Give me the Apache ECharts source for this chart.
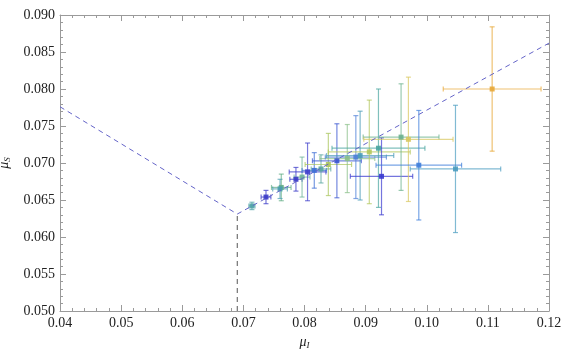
<!DOCTYPE html>
<html>
<head>
<meta charset="utf-8">
<script src="https://cdn.jsdelivr.net/npm/echarts@6/dist/echarts.min.js"></script>
<style>
html, body { margin: 0; padding: 0; background: #fff; }
#chart { width: 562px; height: 351px; }
</style>
</head>
<body>
<div id="chart"></div>
<script>
// measured points
var muI  = [0.0714, 0.0737, 0.0762, 0.0760, 0.0786, 0.0796, 0.0805, 0.0816, 0.0827, 0.0839, 0.0853, 0.0870, 0.0884, 0.0891, 0.0906, 0.0921, 0.0926, 0.0958, 0.0970, 0.0987, 0.1047, 0.1107];
var muS  = [0.0642, 0.0654, 0.0667, 0.0665, 0.0678, 0.0681, 0.0688, 0.0690, 0.0692, 0.0698, 0.0703, 0.0706, 0.0708, 0.0710, 0.0715, 0.0720, 0.0682, 0.0735, 0.0732, 0.0697, 0.0692, 0.0800];
var errI = [0.0005, 0.0008, 0.0016, 0.0012, 0.0010, 0.0013, 0.0030, 0.0020, 0.0016, 0.0038, 0.0040, 0.0045, 0.0050, 0.0055, 0.0067, 0.0076, 0.0051, 0.0062, 0.0073, 0.0070, 0.0074, 0.0080];
var errS = [0.0005, 0.0009, 0.0018, 0.0013, 0.0016, 0.0027, 0.0039, 0.0024, 0.0019, 0.0042, 0.0050, 0.0046, 0.0056, 0.0060, 0.0070, 0.0080, 0.0052, 0.0072, 0.0084, 0.0074, 0.0086, 0.0084];
var pointColors = ["#4fa3a6", "#3b3bc8", "#63ae86", "#4a9cb0", "#3b3bc8", "#6fb59a", "#4040cc", "#3e6fd6", "#5aa6a0", "#a9c45c",
                   "#3a55d0", "#8cc08a", "#4f80d8", "#4a9bb8", "#b3c85e", "#4aa5a0", "#3b3bd0", "#6db38f", "#d8c860", "#3f7fdc", "#4a9cc0", "#e8a838"];

// dashed boundary
var lineI = [0.04, 0.069, 0.12];
var lineS = [0.0776, 0.0631, 0.0862];
var vertI = [0.069, 0.069];
var vertS = [0.050, 0.0631];

var xTicks = { min: 0.04, max: 0.12, step: 0.01 };
var yTicks = { min: 0.050, max: 0.090, step: 0.005 };

var pts = [];
for (var i = 0; i < muI.length; i++) {
  pts.push({ value: [muI[i], muS[i], errI[i], errS[i]], itemStyle: { color: pointColors[i] } });
}
var boundary = lineI.map(function (v, i) { return [v, lineS[i]]; });
var vertical = vertI.map(function (v, i) { return [v, vertS[i]]; });

function renderErr(params, api) {
  var x = api.value(0), y = api.value(1), ex = api.value(2), ey = api.value(3);
  var l = api.coord([x - ex, y]), r = api.coord([x + ex, y]);
  var t = api.coord([x, y + ey]), b = api.coord([x, y - ey]);
  var cap = 2.5;
  var st = { stroke: pointColors[params.dataIndex], lineWidth: 1.2, opacity: 0.7 };
  return {
    type: "group",
    children: [
      { type: "line", shape: { x1: l[0], y1: l[1], x2: r[0], y2: r[1] }, style: st },
      { type: "line", shape: { x1: l[0], y1: l[1] - cap, x2: l[0], y2: l[1] + cap }, style: st },
      { type: "line", shape: { x1: r[0], y1: r[1] - cap, x2: r[0], y2: r[1] + cap }, style: st },
      { type: "line", shape: { x1: t[0], y1: t[1], x2: b[0], y2: b[1] }, style: st },
      { type: "line", shape: { x1: t[0] - cap, y1: t[1], x2: t[0] + cap, y2: t[1] }, style: st },
      { type: "line", shape: { x1: b[0] - cap, y1: b[1], x2: b[0] + cap, y2: b[1] }, style: st }
    ]
  };
}

var frame = "#9a9a9a";
var font = "Liberation Serif";

function axisBase(showLabel, dec) {
  return {
    axisLine: { show: true, lineStyle: { color: frame, width: 1 } },
    axisTick: { show: true, inside: true, length: 6, lineStyle: { color: frame } },
    minorTick: { show: true, splitNumber: 5, length: 3, lineStyle: { color: frame } },
    splitLine: { show: false },
    axisLabel: {
      show: showLabel, color: "#222", fontFamily: font, fontSize: 14, margin: 5,
      formatter: function (v) { return v.toFixed(dec); }
    }
  };
}

var nameRich = {
  m: { fontFamily: font, fontStyle: "italic", fontSize: 14, color: "#222" },
  s: { fontFamily: font, fontStyle: "italic", fontSize: 9, color: "#222", verticalAlign: "bottom", padding: [8, 0, 0, 0] }
};

var chart = echarts.init(document.getElementById("chart"));
chart.setOption({
  animation: false,
  grid: { left: 60, right: 13, top: 15, bottom: 40, containLabel: false, outerBoundsMode: "none" },
  xAxis: [
    Object.assign(axisBase(true, 2), {
      type: "value", min: xTicks.min, max: xTicks.max, interval: xTicks.step, position: "bottom",
      name: "{m|μ}{s|I}", nameLocation: "middle", nameGap: 20,
      nameTextStyle: { rich: nameRich }
    }),
    Object.assign(axisBase(false, 2), {
      type: "value", min: xTicks.min, max: xTicks.max, interval: xTicks.step, position: "top"
    })
  ],
  yAxis: [
    Object.assign(axisBase(true, 3), {
      type: "value", min: yTicks.min, max: yTicks.max, interval: yTicks.step, position: "left",
      name: "{m|μ}{s|S}", nameLocation: "middle", nameGap: 41, nameRotate: 90,
      nameTextStyle: { rich: nameRich }
    }),
    Object.assign(axisBase(false, 3), {
      type: "value", min: yTicks.min, max: yTicks.max, interval: yTicks.step, position: "right"
    })
  ],
  series: [
    {
      type: "line", data: boundary, symbol: "none", silent: true,
      lineStyle: { color: "#6464c8", width: 1, type: [5, 4] }
    },
    {
      type: "line", data: vertical, symbol: "none", silent: true,
      lineStyle: { color: "#555", width: 1, type: [5, 4] }
    },
    {
      type: "custom", renderItem: renderErr, data: pts, silent: true
    },
    {
      type: "scatter", data: pts, symbol: "rect", symbolSize: 5, silent: true,
      itemStyle: { opacity: 0.9 }
    }
  ]
});
</script>
</body>
</html>
